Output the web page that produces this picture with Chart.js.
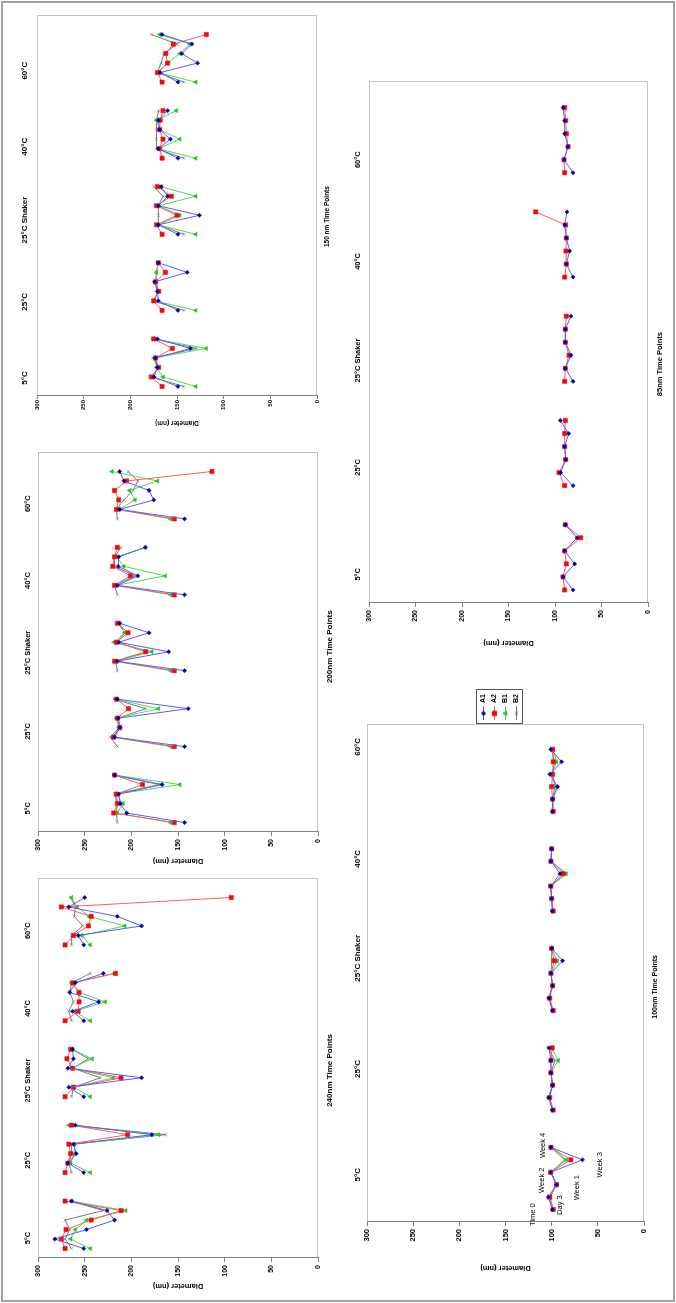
<!DOCTYPE html>
<html><head><meta charset="utf-8">
<script src="https://cdn.jsdelivr.net/npm/chart.js@4.4.1/dist/chart.umd.min.js"></script>
<style>
html,body{margin:0;padding:0;background:#fff;width:676px;height:1303px;overflow:hidden;}
#wrap{position:absolute;left:0;top:1303px;width:1303px;height:676px;transform-origin:0 0;transform:rotate(-90deg);}
#frame{position:absolute;left:1px;top:1px;width:1297px;height:670px;border:2px solid #a0a0a0;}
canvas{position:absolute;}
</style></head><body><div id="wrap"><div id="frame"></div></div>
<script>
// ---------- categories ----------
const groups = ['5°C','25°C','25°C Shaker','40°C','60°C'];
const timePoints = ['Time 0','Day 3','Week 1','Week 2','Week 3','Week 4'];
const seriesNames = ['A1','A2','B1','B2'];

// ---------- 240 nm (6 time points per group) ----------
const nm240_A1 = [251,282,248,218,226,264, 251,268,259,262,178,260, 251,267,189,268,262,263, 251,263,235,266,260,230, 251,257,189,215,267,250];
const nm240_A2 = [271,275,270,243,211,271, 271,268,265,267,204,264, 271,262,211,263,269,265, 271,257,256,256,263,217, 271,262,246,243,275,93];
const nm240_B1 = [244,265,260,248,206,264, 244,265,261,261,171,267, 244,262,219,264,242,263, 244,261,228,256,264,218, 244,253,207,245,258,264];
const nm240_B2 = [264,271,266,271,230,265, 264,267,264,264,163,265, 264,262,233,263,246,264, 264,267,262,266,264,244, 264,264,252,261,260,265];

// ---------- 200 nm ----------
const nm200_A1 = [143,205,212,213.5,167,218, 143,218,212,214,139,215, 143,215,160,213.5,181,212.5, 143,215,193,214,213.5,185, 143,212.5,176,181,208,212.5];
const nm200_A2 = [154,219,215,216,188,218, 154,219,212.5,215,203,216, 154,218,184.6,216,203.5,215, 154,218,201,220,218,215, 154,216,213.5,218,205,113.6];
const nm200_B1 = [158,215,209,216,148,218, 158,219.6,213,216,171,217, 158,216,178,218.5,207,212.5, 158,216,163.6,208,216,185, 158,213,196,202,172,220.7];
const nm200_B2 = [215,216,215,218,170,218, 215,222.5,213,215,184.6,218, 215,217,183,215,207,214, 215,218,196,218,218,211, 215,216,208,198,193,203.5];

// ---------- 150 nm ----------
const nm150_A1 = [149,174.6,171,173,135.7,171, 149,170,171,174,139,170, 149,170,126,170,160,167, 149,170,157,168.6,170,160, 149,168,128,145,134,166];
const nm150_A2 = [166,177.5,169.6,173,155,175, 166,175,169.6,173,162.5,170, 166,172,150,172,156,171, 166,168.6,165,168.6,168,165, 166,171,160,162,154,118.6];
const nm150_B1 = [130,165,172,174,118.6,175, 130,174,171,172,172,170, 130,170,147,169.6,130,167, 130,170,147,168.6,172,150.7, 130,170,160,147,136.4,168.6];
const nm150_B2 = [142.5,177.5,170,176,129,175, 142.5,175.7,170,173,172,170, 142.5,170,170,170,165,174.6, 142.5,172,172,172,172,169.6, 142.5,171,167,164,149.6,177.5];

// ---------- 85 nm ----------
const nm85_A1 = [80.6,91.4,78.8,89.6,76.3,88.9, 80.6,93.9,88.5,89.6,85.3,94.3, 80.6,88.9,82.8,88.9,88.9,82.8, 80.6,87.8,84.2,87.8,89.6,87.1, 80.6,90.3,86,89.6,89.6,91.4];
const nm85_A2 = [89.6,91.4,87.8,89.6,72.4,88.9, 89.6,95.7,88.5,89.6,89.6,88.9, 89.6,88.9,84.9,88.9,88.9,87.8, 89.6,87.8,88.2,87.8,88.5,120.8, 89.6,90.3,86,87.8,88.5,89.6];

// ---------- 100 nm ----------
const nm100_A1 = [99.4,103.7,94.7,101,66.6,100.8, 99.4,103,99,100.8,100.8,103, 99.4,103,99,100.8,88.2,100, 99.4,100,101,91,100.8,100, 99.4,99,93.6,102,89.3,101];
const nm100_A2 = [98.3,102,94.7,101,79.2,100.8, 98.3,102,99,100.8,100.8,99.4, 98.3,102,99,100.8,97.2,100, 98.3,100,101,87.5,100.8,100, 98.3,99,100,99,98.3,99];
const nm100_B1 = [98.5,102,94.7,101,83.9,100.8, 98.5,103.7,99,100.8,92.9,100, 98.5,103,99,100.8,94,100, 98.5,100,101,84.6,100.8,100, 98.5,99,94.7,100,94.7,98.3];
const nm100_B2 = [98.5,102,94.7,101,85.7,100.8, 98.5,103,99,100.8,96.5,103.7, 98.5,103,99,100.8,100,100, 98.5,100,101,84,100.8,100, 98.5,99,96.5,99,97,100];

// ---------- styles / layout (not data) ----------
const FONT = "'Liberation Sans', Arial, Helvetica, sans-serif";
Chart.defaults.font.family = FONT;
Chart.defaults.color = '#000';

const seriesStyle = {
  A1: {point:'#0000b0', line:'#5a5aff', style:'rectRot', r:2.1},
  A2: {point:'#f00a0a', line:'#ff5a5a', style:'rect', r:3.0},
  B1: {point:'#22c022', line:'#55d855', style:'triangle', r:2.5},
  B2: {point:'#6e6e6e', line:'#7a7a7a', style:'crossRot', r:2.3}
};

// legend icons: short line with the series marker in the middle
function legendIcon(name){
  const st = seriesStyle[name];
  const c = document.createElement('canvas'); c.width = 14; c.height = 7;
  const g = c.getContext('2d');
  g.strokeStyle = st.line; g.lineWidth = 1;
  g.beginPath(); g.moveTo(0, 3.5); g.lineTo(14, 3.5); g.stroke();
  g.fillStyle = st.point; g.strokeStyle = st.point;
  Chart.helpers.drawPoint(g, {pointStyle: st.style, radius: st.r, borderWidth: 0.5, rotation: 0}, 7, 3.5);
  return c;
}

// slot layout: each group occupies 8 slots, 6 time points then a gap
function toPoints(values){
  const pts = [];
  groups.forEach((g, gi) => {
    timePoints.forEach((t, ti) => pts.push({x: 1 + gi*8 + ti, y: values[gi*6 + ti]}));
    if (gi < groups.length - 1) pts.push({x: 7 + gi*8, y: null});
  });
  return pts;
}

const plotFrame = {
  id: 'plotFrame',
  beforeDraw(chart){
    const a = chart.chartArea, c = chart.ctx;
    c.save(); c.strokeStyle = '#c4c4c4'; c.lineWidth = 1;
    c.strokeRect(Math.round(a.left)+0.5, Math.round(a.top)+0.5, Math.round(a.right-a.left)-1, Math.round(a.bottom-a.top)-1);
    c.restore();
  }
};
const legendBox = {
  id: 'legendBox',
  afterDraw(chart){
    if (!chart.options.plugins.legend.display) return;
    const hb = chart.legend.legendHitBoxes; if (!hb || !hb.length) return;
    let l = Infinity, t = Infinity, r = -Infinity, b = -Infinity;
    hb.forEach(h => { l = Math.min(l, h.left); t = Math.min(t, h.top); r = Math.max(r, h.left + h.width); b = Math.max(b, h.top + h.height); });
    const c = chart.ctx; c.save(); c.strokeStyle = '#555'; c.lineWidth = 1;
    c.strokeRect(Math.round(l - 4) + 0.5, Math.round(t - 4) + 0.5, Math.round(r - l + 8), Math.round(b - t + 6));
    c.restore();
  }
};
const timeAnno = {
  id: 'timeAnno',
  afterDatasetsDraw(chart){
    const cfg = chart.options.plugins.timeAnno;
    if (!cfg || !cfg.show) return;
    const c = chart.ctx, xs = chart.scales.x, ys = chart.scales.y;
    const ds = chart.data.datasets[0].data;
    c.save(); c.font = 'normal 7.5px ' + FONT; c.fillStyle = '#000'; c.textAlign = 'center'; c.textBaseline = 'middle';
    timePoints.forEach((t, i) => {
      const p = ds[i];
      c.fillText(t, xs.getPixelForValue(p.x) + cfg.dx[i], ys.getPixelForValue(p.y) + cfg.dy[i]);
    });
    c.restore();
  }
};

const panels = [
  {title:'240nm Time Points', data:{A1:nm240_A1, A2:nm240_A2, B1:nm240_B1, B2:nm240_B2},
   plot:{L:45,T:38,R:425,B:318}, yTitleX:17, catY:28, titleY:330, titleShift:-2, catPos:[2.1,10.3,18.7,26.3,34.5],
   tickFont:7, yTitleFont:7.5, catFont:7.5, titleFont:8, tickLen:4, tickPad:3},
  {title:'200nm Time Points', data:{A1:nm200_A1, A2:nm200_A2, B1:nm200_B1, B2:nm200_B2},
   plot:{L:471,T:38,R:851,B:318}, yTitleX:442, catY:28, titleY:330, titleShift:-5, catPos:[2.5,10.6,18.9,26.5,34.6],
   tickFont:7, yTitleFont:7.5, catFont:7.5, titleFont:8, tickLen:4, tickPad:3},
  {title:'150 nm Time Points', data:{A1:nm150_A1, A2:nm150_A2, B1:nm150_B1, B2:nm150_B2},
   plot:{L:907,T:37,R:1288,B:317}, yTitleX:880, catY:25, titleY:327, titleShift:-11, catPos:[1.9,9.9,18.5,26.2,34.2],
   tickFont:6, yTitleFont:6.5, catFont:8, titleFont:6.5, tickLen:3, tickPad:1},
  {title:'100nm Time Points', data:{A1:nm100_A1, A2:nm100_A2, B1:nm100_B1, B2:nm100_B2},
   plot:{L:81,T:367,R:579,B:644}, yTitleX:35, catY:358, titleY:655, titleShift:-14, catPos:[3.8,12.3,21.2,29.2,38.2],
   tickFont:7.5, yTitleFont:7.5, catFont:8, titleFont:7, tickLen:4, tickPad:3, legend:true, extraTop:13,
   anno:{show:true, dx:[-5,-8,-3,-8,-5,2], dy:[-19,12,20,-9,17.5,-8]}},
  {title:'85nm Time Points', data:{A1:nm85_A1, A2:nm85_A2},
   plot:{L:700,T:369,R:1222,B:648}, yTitleX:660, catY:358, titleY:660, titleShift:-22, catPos:[2.2,10.4,18.6,26.2,34.0],
   tickFont:7, yTitleFont:7.5, catFont:7.5, titleFont:7.5, tickLen:4, tickPad:3}
];

const wrap = document.getElementById('wrap');
const measureCtx = document.createElement('canvas').getContext('2d');

// centred axis title moved sideways by padding it with spaces on one side
function shiftedTitle(text, size, shift){
  if (!shift) return text;
  measureCtx.font = 'bold ' + size + 'px ' + FONT;
  const sw = measureCtx.measureText(' ').width || size * 0.278;
  const n = Math.round(2 * Math.abs(shift) / sw);
  return shift < 0 ? text + ' '.repeat(n) : ' '.repeat(n) + text;
}

function buildConfig(p, geo){
  const bold = s => ({family: FONT, size: s, weight: 'bold'});
  const datasets = Object.keys(p.data).map(name => {
    const st = seriesStyle[name];
    return {
      label: name, data: toPoints(p.data[name]),
      borderColor: st.line, backgroundColor: st.point, borderWidth: 1,
      pointStyle: st.style, pointRadius: st.r, pointBorderWidth: 0.5,
      pointBackgroundColor: st.point, pointBorderColor: st.point,
      spanGaps: false, tension: 0, clip: false
    };
  });
  return {
    type: 'line',
    data: {datasets},
    plugins: [plotFrame, legendBox, timeAnno],
    options: {
      responsive: false, animation: false, devicePixelRatio: 1,
      layout: {padding: {left: 0, top: 0, right: geo.padR, bottom: 0}},
      events: [],
      plugins: {
        tooltip: {enabled: false},
        title: {display: false},
        legend: {
          display: !!p.legend, position: 'right', align: 'center',
          labels: {usePointStyle: true, pointStyleWidth: 14, boxHeight: 7, padding: 4,
                   font: bold(7), color: '#000',
                   generateLabels: chart => chart.data.datasets.map((d, i) => ({
                     text: d.label, pointStyle: legendIcon(d.label), fillStyle: d.pointBackgroundColor,
                     strokeStyle: d.pointBorderColor, lineWidth: 0, hidden: false, datasetIndex: i, fontColor: '#000'
                   }))}
        },
        timeAnno: p.anno || {show: false}
      },
      scales: {
        x: {
          type: 'linear', position: 'bottom', min: 0, max: 40,
          ticks: {display: false}, grid: {display: false, drawTicks: false}, border: {display: false},
          title: {display: true, text: shiftedTitle(p.title, p.titleFont, p.titleShift), font: bold(p.titleFont), color: '#000',
                  padding: {top: 0, bottom: geo.titlePadB}},
          afterFit: s => { s.height = geo.botH; }
        },
        xTop: {
          type: 'linear', position: 'top', min: 0, max: 40,
          afterBuildTicks: s => { s.ticks = p.catPos.map(v => ({value: v})); },
          ticks: {autoSkip: false, maxRotation: 0, minRotation: 0, padding: geo.catPad,
                  font: bold(p.catFont), color: '#000', callback: (v, i) => groups[i]},
          grid: {display: false, drawTicks: false}, border: {display: false},
          afterFit: s => { s.height = geo.topH; }
        },
        y: {
          type: 'linear', min: 0, max: 300,
          ticks: {stepSize: 50, font: bold(p.tickFont), color: '#000', padding: p.tickPad},
          grid: {drawOnChartArea: false, drawTicks: true, tickLength: p.tickLen, color: '#808080'},
          border: {display: true, color: '#808080'},
          title: {display: true, text: 'Diameter (nm)', font: bold(p.yTitleFont), color: '#000',
                  padding: {top: geo.yTitlePadT, bottom: 0}},
          afterFit: s => { s.width = geo.yW; }
        }
      }
    }
  };
}

panels.forEach(p => {
  const ylh = p.yTitleFont * 1.2, clh = p.catFont * 1.2, tlh = p.titleFont * 1.2;
  const cLeft = Math.floor(p.yTitleX - ylh / 2 - 1);
  const cTop = Math.floor(p.catY - clh / 2 - 2) - (p.extraTop || 0);
  const cBottom = Math.ceil(p.titleY + tlh / 2 + 2);
  const padR = 4;
  const geo = {
    padR,
    yW: p.plot.L - cLeft,
    topH: p.plot.T - cTop,
    botH: cBottom - p.plot.B,
    titlePadB: cBottom - p.titleY - tlh / 2,
    catPad: Math.max(0, p.plot.T - p.catY - clh / 2),
    yTitlePadT: p.yTitleX - cLeft - ylh / 2
  };
  const canvas = document.createElement('canvas');
  canvas.style.left = cLeft + 'px';
  canvas.style.top = cTop + 'px';
  canvas.width = p.plot.R + padR - cLeft;
  canvas.height = cBottom - cTop;
  wrap.appendChild(canvas);
  let chart = new Chart(canvas, buildConfig(p, geo));
  if (p.legend) {
    for (let k = 0; k < 3; k++) {
      const diff = Math.round(cLeft + chart.chartArea.right - p.plot.R);
      if (diff === 0) break;
      chart.destroy();
      canvas.width = canvas.width - diff;
      chart = new Chart(canvas, buildConfig(p, geo));
    }
  }
});
</script></body></html>
